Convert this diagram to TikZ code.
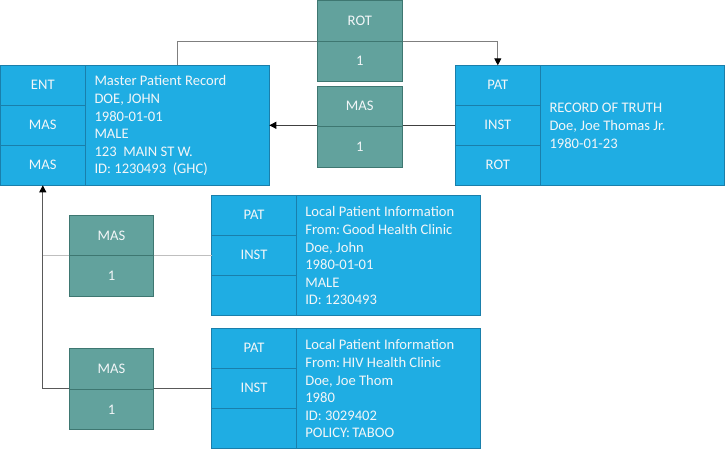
\documentclass[tikz,border=0pt]{standalone}
\usepackage{fontspec}
\setmainfont{Carlito}
\usetikzlibrary{arrows.meta}
\definecolor{bfill}{HTML}{1FADE3}
\definecolor{bdraw}{HTML}{1A7FAB}
\definecolor{tfill}{HTML}{62A29D}
\definecolor{tdraw}{HTML}{3E7771}
\definecolor{txt}{HTML}{F2F6F8}
\definecolor{lgrey}{HTML}{BFBFBF}
\definecolor{mgrey}{HTML}{7F7F7F}
\begin{document}
\begin{tikzpicture}[x=1pt,y=-1pt,
  every node/.style={font=\fontsize{14.6}{17.6}\selectfont, text=txt, inner sep=0pt, outer sep=0pt},
  bcell/.style={draw=bdraw, fill=bfill, line width=1pt, minimum width=85pt, minimum height=40pt},
  tcell/.style={draw=tdraw, fill=tfill, line width=1pt, minimum width=85pt, minimum height=40pt},
  bwide/.style={draw=bdraw, fill=bfill, line width=1pt, minimum width=184pt, minimum height=120pt},
  info/.style={align=left, anchor=west},
  conn/.style={draw=mgrey, line width=1pt},
  tip/.style={-{Triangle[length=7pt,width=7pt,color=black]}}
]
\useasboundingbox (0,0) rectangle (725,450);
% master record
\node[bcell] (m1) at (42.8,85.3) {ENT};
\node[bcell] (m2) at (42.8,125.3) {MAS};
\node[bcell] (m3) at (42.8,165.3) {MAS};
\node[bwide] (mt) at (177.3,125.3) {};
\node[info] (mtx) at (94.5,125.8) {Master Patient Record\\DOE, JOHN\\1980-01-01\\MALE\\123\ \ MAIN ST W.\\ID: 1230493\ \ (GHC)};
% record of truth
\node[bcell] (p1) at (497.8,85.3) {PAT};
\node[bcell] (p2) at (497.8,125.3) {INST};
\node[bcell] (p3) at (497.8,165.3) {ROT};
\node[bwide] (pt) at (632.3,125.3) {};
\node[info] (ptx) at (549.5,125.8) {RECORD OF TRUTH\\Doe, Joe Thomas Jr.\\1980-01-23};
% good health clinic
\node[bcell] (g1) at (254,215.3) {PAT};
\node[bcell] (g2) at (254,255.3) {INST};
\node[bcell] (g3) at (254,295.3) {};
\node[bwide] (gt) at (388.3,255.3) {};
\node[info] (gtx) at (305.3,255.8) {Local Patient Information\\From:\,Good Health Clinic\\Doe, John\\1980-01-01\\MALE\\ID: 1230493};
% hiv health clinic
\node[bcell] (h1) at (254,348.3) {PAT};
\node[bcell] (h2) at (254,388.3) {INST};
\node[bcell] (h3) at (254,428.3) {};
\node[bwide] (ht) at (388.3,388.3) {};
\node[info] (htx) at (305.3,388.8) {Local Patient Information\\From:\,HIV Health Clinic\\Doe, Joe Thom\\1980\\ID: 3029402\\POLICY:\,TABOO};
% connectors
\coordinate (rotline) at (359.8,41.5);
\draw[conn,tip] (mt.north) -- (mt.north |- rotline) -| (p1.north);
\draw[conn,draw=black!75,tip] (p2.west) -- (mt.east);
\draw[conn,draw=lgrey] (g2.west) -- (g2.west -| m3.south);
\draw[conn,draw=black!65,tip] (h2.west) -| (m3.south);
% teal link boxes
\node[tcell, minimum height=41.5pt] (r1) at (359.8,20.75) {ROT};
\node[tcell, minimum height=39.5pt] (r2) at (359.8,61.25) {1};
\node[tcell] (s1) at (359.8,106.3) {MAS};
\node[tcell, minimum height=40.7pt] (s2) at (359.8,146.65) {1};
\node[tcell, minimum width=84.4pt, minimum height=40.4pt] (a1) at (111.5,235.5) {MAS};
\node[tcell, minimum width=84.4pt, minimum height=41pt] (a2) at (111.5,276.2) {1};
\node[tcell, minimum width=84.4pt, minimum height=41pt] (b1) at (111.5,368.8) {MAS};
\node[tcell, minimum width=84.4pt, minimum height=40pt] (b2) at (111.5,409.3) {1};
\end{tikzpicture}
\end{document}
